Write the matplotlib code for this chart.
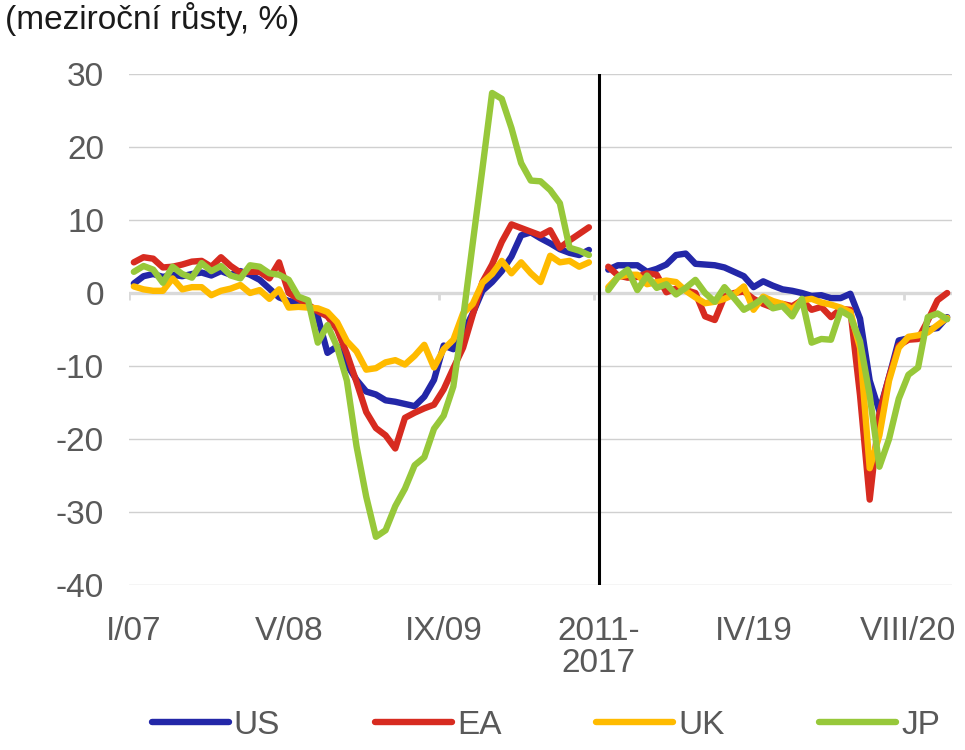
import numpy as np
import matplotlib
matplotlib.use("Agg")
import matplotlib.pyplot as plt

plt.rcParams['font.family'] = ['Liberation Sans', 'DejaVu Sans']
plt.rcParams['axes.unicode_minus'] = False

# meziroční růsty v %, I/07-XII/10 a I/18-XII/20 (mezi nimi mezera 2011-2017)
us_a = [1.3, 2.3, 2.6, 2.2, 2.5, 2.3, 2.6, 2.8, 2.4, 3.0, 2.5, 3.0,
        2.5, 1.8, 0.6, -0.6, -1.1, -1.3, -1.6, -3.3, -8.2, -7.3, -9.8, -11.9,
        -13.5, -13.9, -14.7, -14.9, -15.2, -15.5, -14.2, -11.9, -7.2, -7.7, -5.5, -2.8,
        0.3, 1.5, 3.0, 5.0, 7.9, 8.3, 7.5, 6.8, 6.0, 5.5, 5.2, 5.9]
ea_a = [4.2, 4.9, 4.7, 3.5, 3.6, 3.9, 4.3, 4.4, 3.6, 4.9, 3.7, 2.8,
        2.9, 2.9, 2.0, 4.2, 0.0, -0.8, -1.6, -2.5, -3.2, -5.0, -8.3, -12.2,
        -16.3, -18.5, -19.5, -21.3, -17.1, -16.4, -15.8, -15.3, -13.2, -10.3, -7.5, -3.0,
        1.5, 3.9, 7.0, 9.4, 8.9, 8.4, 7.9, 8.6, 6.2, 7.2, 8.1, 9.0]
uk_a = [0.9, 0.5, 0.3, 0.3, 2.0, 0.5, 0.8, 0.8, -0.3, 0.3, 0.6, 1.1,
        0.0, 0.4, -0.8, 0.5, -2.0, -1.9, -2.0, -2.1, -2.6, -4.0, -6.6, -8.0,
        -10.5, -10.3, -9.5, -9.2, -9.8, -8.6, -7.1, -10.2, -7.7, -6.4, -2.8, -1.5,
        1.4, 2.6, 4.4, 2.7, 4.2, 2.7, 1.5, 5.1, 4.2, 4.4, 3.6, 4.2]
jp_a = [2.9, 3.7, 3.2, 1.4, 3.6, 2.6, 2.1, 4.1, 3.0, 3.7, 2.4, 2.0,
        3.8, 3.6, 2.7, 2.5, 1.8, -0.5, -1.0, -6.8, -4.4, -7.4, -12.0, -21.0,
        -27.9, -33.4, -32.5, -29.2, -26.8, -23.6, -22.5, -18.6, -16.8, -12.8, -3.5, 6.8,
        17.0, 27.4, 26.6, 22.6, 17.8, 15.4, 15.3, 14.1, 12.3, 6.2, 5.8, 5.2]

us_b = [3.2, 3.8, 3.8, 3.8, 2.9, 3.3, 3.9, 5.2, 5.4, 4.0, 3.9, 3.8,
        3.5, 2.9, 2.3, 0.8, 1.6, 1.0, 0.5, 0.3, 0.0, -0.4, -0.3, -0.7,
        -0.7, -0.1, -3.5, -12.0, -16.2, -11.5, -6.5, -6.2, -6.1, -5.0, -4.8, -3.3]
ea_b = [3.6, 2.4, 2.1, 2.2, 2.7, 2.5, 0.1, 0.6, 0.4, 0.0, -3.2, -3.7,
        -0.5, 0.0, 0.2, -0.8, -1.5, -2.0, -1.5, -1.8, -1.0, -2.3, -1.9, -3.3,
        -2.2, -2.3, -14.0, -28.3, -16.5, -11.5, -7.2, -6.4, -6.3, -3.8, -1.0, 0.0]
uk_b = [0.8, 2.2, 2.5, 2.5, 1.2, 1.5, 1.7, 1.5, 0.3, -0.6, -1.4, -1.2,
        -0.8, -0.2, 0.9, -2.3, -0.5, -1.1, -1.5, -2.2, -1.0, -0.8, -1.3, -1.6,
        -2.0, -2.6, -7.5, -24.0, -19.5, -12.0, -7.5, -6.0, -5.8, -5.4, -4.4, -3.4]
jp_b = [0.4, 2.2, 3.2, 0.4, 2.4, 0.7, 1.2, -0.2, 0.7, 1.8, 0.0, -1.2,
        0.8, -0.7, -2.3, -1.6, -0.7, -2.1, -1.8, -3.2, -0.8, -6.8, -6.3, -6.4,
        -2.4, -3.2, -6.6, -14.0, -23.8, -20.0, -14.5, -11.2, -10.2, -3.3, -2.8, -3.6]

series = [('US', us_a, us_b, '#2327a8'),
          ('EA', ea_a, ea_b, '#d72b20'),
          ('UK', uk_a, uk_b, '#ffbb00'),
          ('JP', jp_a, jp_b, '#97c83a')]

tick_labels = ['I/07', 'V/08', 'IX/09', '2011-\n2017', 'IV/19', 'VIII/20']
n_a = len(us_a)
x_a = np.arange(n_a) + 0.5
x_b = np.arange(n_a + 1, n_a + 1 + len(us_b)) + 0.5
n_cat = n_a + 1 + len(us_b)

fs = 24
fig = plt.figure(figsize=(9.65, 7.5), dpi=100)
ax = fig.add_axes([129 / 965, 1 - 585 / 750, (952 - 129) / 965, (585 - 74) / 750])

for name, a, b, col in series:
    ax.plot(x_a, a, color=col, lw=4.6, solid_capstyle='round', solid_joinstyle='round', label=name)
    ax.plot(x_b, b, color=col, lw=4.6, solid_capstyle='round', solid_joinstyle='round')

ax.set_xlim(0, n_cat)
ax.set_ylim(-40, 30)
ax.set_yticks(np.arange(-40, 31, 10))
ax.grid(axis='y', color='#d0d0d0', lw=1.0)
ax.set_axisbelow(True)
for s in ax.spines.values():
    s.set_visible(False)

# osa x na nule s čárkami
ax.axhline(0, color='#d9d9d9', lw=2.4, zorder=1)
marks = np.arange(0, n_cat, 16)
ax.vlines(marks, -1.0, 0, color='#d9d9d9', lw=2.0, zorder=1)
# předěl mezi obdobími
ax.axvline(n_a + 0.5, color='black', lw=2.2, zorder=5)

ax.set_xticks(marks + 0.5)
ax.set_xticklabels(tick_labels, linespacing=1.05)
ax.tick_params(axis='x', length=0, pad=22, labelsize=fs, labelcolor='#595959')
ax.tick_params(axis='y', length=0, pad=18, labelsize=fs, labelcolor='#595959')

fig.text(5 / 965, 1 - 19 / 750, '(meziroční růsty, %)', fontsize=fs, color='#1a1a1a', va='center', ha='left')

fig.legend(loc='center', bbox_to_anchor=(546 / 965, 1 - 725 / 750), ncol=4, frameon=False,
           fontsize=fs, handlelength=2.3, handletextpad=0.15, columnspacing=2.85,
           labelcolor='#595959')

fig.savefig('out.png', dpi=100)
